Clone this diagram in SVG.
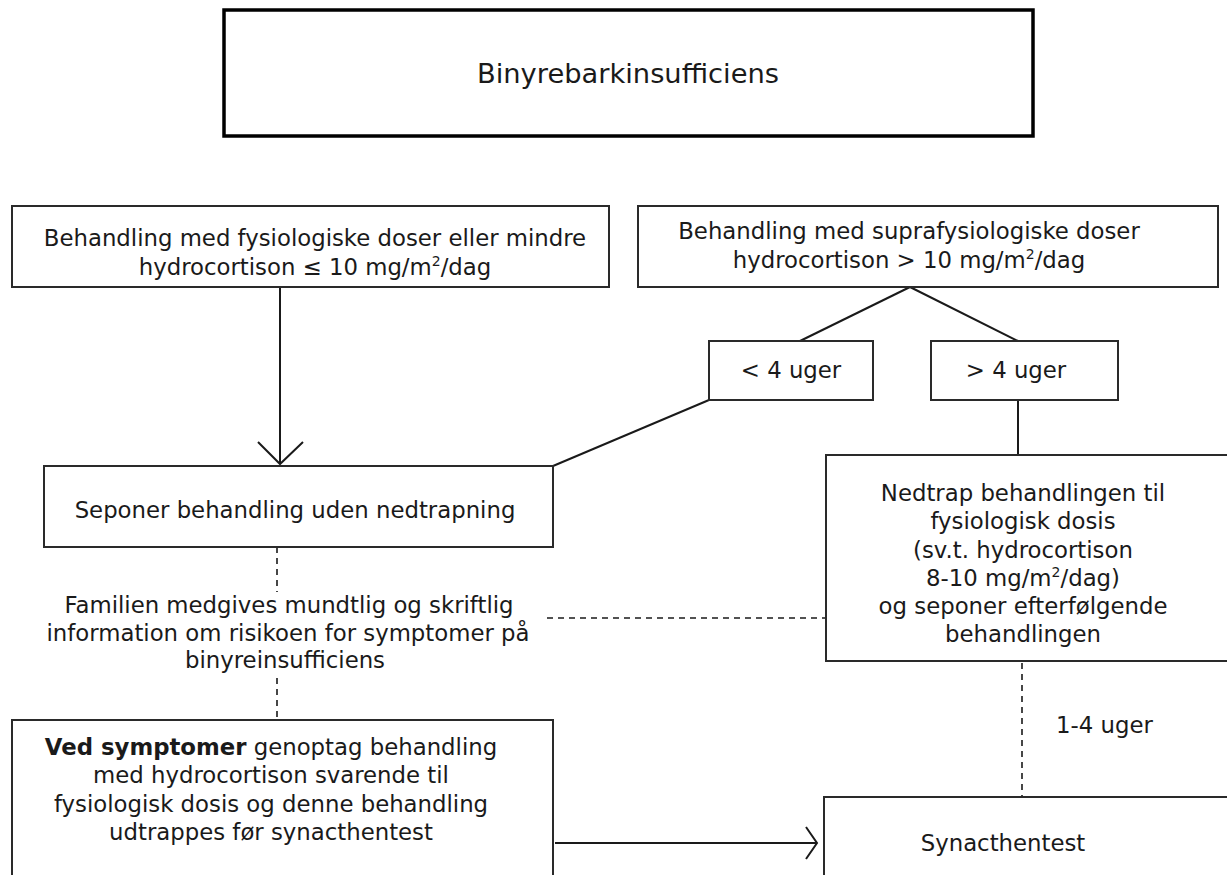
<svg xmlns="http://www.w3.org/2000/svg" width="1227" height="875" viewBox="0 0 1227 875">
<style>
text{font-family:"DejaVu Sans","Verdana",sans-serif;font-size:22.8px;fill:#1a1a1a;text-anchor:middle}
.box{fill:#fff;stroke:#2a2a2a;stroke-width:2}
.title{fill:#fff;stroke:#000;stroke-width:3.5}
.ln{fill:none;stroke:#1a1a1a;stroke-width:2}
.dash{fill:none;stroke:#1a1a1a;stroke-width:1.6;stroke-dasharray:6 5}
.sup{font-size:14px}
</style>
<rect width="1227" height="875" fill="#fff"/>
<g id="connectors">
<line class="ln" x1="280" y1="287" x2="280" y2="464"/>
<polyline class="ln" points="258,442 280,464 303,442"/>
<line class="ln" x1="910" y1="287" x2="800" y2="341"/>
<line class="ln" x1="910" y1="287" x2="1018" y2="341"/>
<line class="ln" x1="709" y1="400" x2="553" y2="466"/>
<line class="ln" x1="1018" y1="400" x2="1018" y2="455"/>
<line class="dash" x1="277" y1="547" x2="277" y2="592"/>
<line class="dash" x1="277" y1="678" x2="277" y2="720"/>
<line class="dash" x1="547" y1="618" x2="826" y2="618"/>
<line class="dash" x1="1022" y1="663" x2="1022" y2="797"/>
<line class="ln" x1="555" y1="843" x2="817" y2="843"/>
<polyline class="ln" points="806,827 817,843 806,859"/>
</g>
<g id="title">
<rect class="title" x="224" y="10" width="809" height="126"/>
<text x="628" y="83" style="font-size:27.3px">Binyrebarkinsufficiens</text>
</g>
<g id="fysiologisk">
<rect class="box" x="12" y="206" width="597" height="81"/>
<text x="315" y="246">Behandling med fysiologiske doser eller mindre</text>
<text x="315" y="275">hydrocortison ≤ 10 mg/m<tspan class="sup" dy="-9">2</tspan><tspan dy="9">/dag</tspan></text>
</g>
<g id="suprafysiologisk">
<rect class="box" x="638" y="206" width="580" height="81"/>
<text x="909" y="239">Behandling med suprafysiologiske doser</text>
<text x="909" y="268">hydrocortison &gt; 10 mg/m<tspan class="sup" dy="-9">2</tspan><tspan dy="9">/dag</tspan></text>
</g>
<g id="under4">
<rect class="box" x="709" y="341" width="164" height="59"/>
<text x="791" y="378">&lt; 4 uger</text>
</g>
<g id="over4">
<rect class="box" x="931" y="341" width="187" height="59"/>
<text x="1016" y="378">&gt; 4 uger</text>
</g>
<g id="seponer">
<rect class="box" x="44" y="466" width="509" height="81"/>
<text x="295" y="518">Seponer behandling uden nedtrapning</text>
</g>
<g id="familien">
<text x="289" y="613">Familien medgives mundtlig og skriftlig</text>
<text x="288" y="641">information om risikoen for symptomer på</text>
<text x="285" y="668">binyreinsufficiens</text>
</g>
<g id="nedtrap">
<rect class="box" x="826" y="455" width="420" height="206"/>
<text x="1023" y="501">Nedtrap behandlingen til</text>
<text x="1023" y="529">fysiologisk dosis</text>
<text x="1023" y="558">(sv.t. hydrocortison</text>
<text x="1023" y="586">8-10 mg/m<tspan class="sup" dy="-9">2</tspan><tspan dy="9">/dag)</tspan></text>
<text x="1023" y="614">og seponer efterfølgende</text>
<text x="1023" y="642">behandlingen</text>
</g>
<g id="uger14">
<text x="1056" y="733" style="text-anchor:start">1-4 uger</text>
</g>
<g id="symptomer">
<rect class="box" x="12" y="720" width="541" height="170"/>
<text x="271" y="755"><tspan style="font-weight:bold">Ved symptomer</tspan> genoptag behandling</text>
<text x="271" y="783">med hydrocortison svarende til</text>
<text x="271" y="812">fysiologisk dosis og denne behandling</text>
<text x="271" y="840">udtrappes før synacthentest</text>
</g>
<g id="synacthentest">
<rect class="box" x="824" y="797" width="420" height="100"/>
<text x="1003" y="851">Synacthentest</text>
</g>
</svg>
